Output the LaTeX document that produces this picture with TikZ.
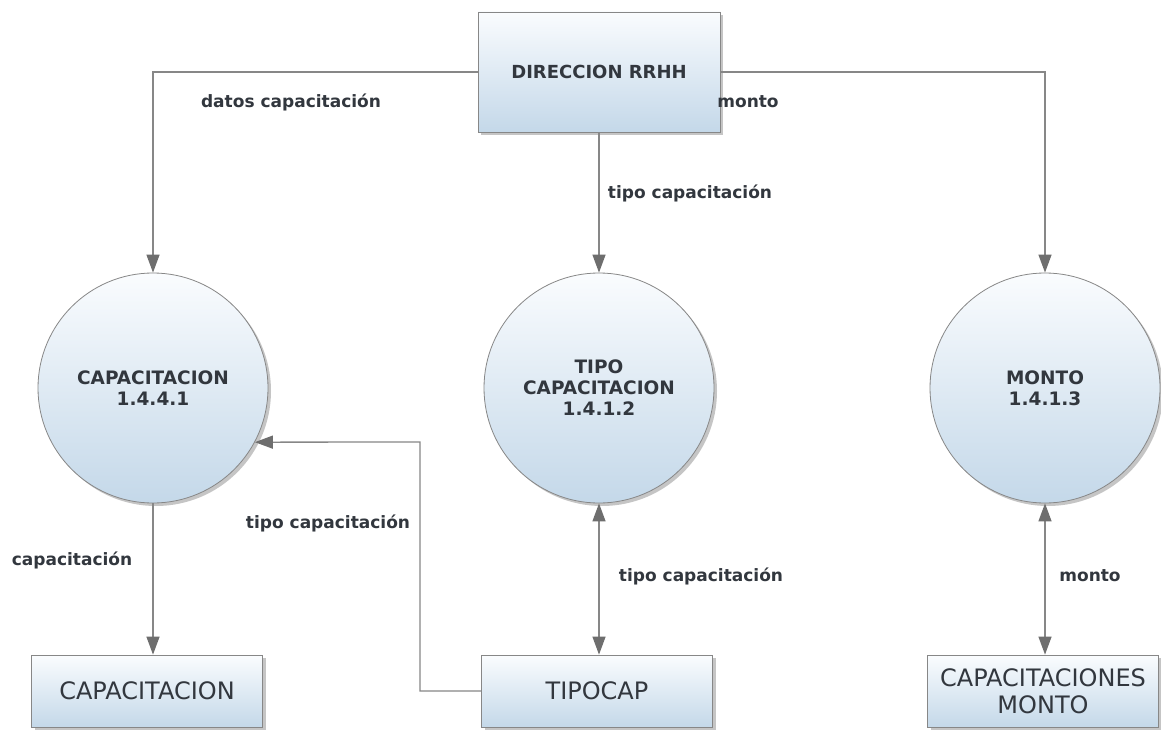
\documentclass[tikz,border=0pt]{standalone}
\usepackage{fontspec}
\setmainfont{DejaVu Sans}
\usetikzlibrary{arrows.meta,shadows}
\definecolor{edgegray}{RGB}{135,135,135}
\definecolor{tipgray}{RGB}{110,110,110}
\definecolor{fillbot}{RGB}{196,216,233}
\definecolor{filltop}{RGB}{250,252,254}
\definecolor{txt}{RGB}{50,55,62}
\tikzset{
  x=1pt, y=-1pt,
  tipshape/.style={Triangle[length=18pt,width=13pt,color=tipgray]},
  flow/.style={draw=edgegray, line width=1.3pt, -{Triangle[length=18pt,width=13pt,color=tipgray]}},
  flowboth/.style={draw=edgegray, line width=1.3pt,
    {Triangle[length=18pt,width=13pt,color=tipgray]}-{Triangle[length=18pt,width=13pt,color=tipgray]}},
  proc/.style={circle, draw=edgegray, line width=0.8pt, minimum size=230pt,
    inner sep=0pt, top color=filltop, bottom color=fillbot,
    drop shadow={shadow xshift=3pt, shadow yshift=-3pt, opacity=0.45},
    align=center, text=txt, font=\bfseries\fontsize{18.5}{21}\selectfont},
  entity/.style={rectangle, draw=edgegray, line width=0.8pt,
    top color=filltop, bottom color=fillbot,
    drop shadow={shadow xshift=3pt, shadow yshift=-3pt, opacity=0.45},
    align=center, text=txt},
  extent/.style={entity, minimum width=242pt, minimum height=120pt,
    font=\bfseries\fontsize{18}{21}\selectfont},
  store/.style={entity, minimum width=231pt, minimum height=72pt,
    font=\fontsize{24}{27}\selectfont},
  flowlabel/.style={text=txt, font=\bfseries\fontsize{17}{19}\selectfont, inner sep=0pt},
}
\begin{document}
\begin{tikzpicture}
\useasboundingbox[fill=white] (0,0) rectangle (1161,730);

% external entity
\node[extent] (dir) at (599,72) {DIRECCION RRHH};

% processes
\node[proc] (cap)   at (153,388)  {CAPACITACION\\1.4.4.1};
\node[proc] (tipo)  at (599,388)  {TIPO\\CAPACITACION\\1.4.1.2};
\node[proc] (monto) at (1045,388) {MONTO\\1.4.1.3};

% data stores
\node[store] (scap)   at (147,691)  {CAPACITACION};
\node[store] (stipo)  at (597,691)  {TIPOCAP};
\node[store] (smonto) at (1043,691) {CAPACITACIONES\\MONTO};

% flows from the external entity
\draw[flow] (dir.west) -| (cap.north);
\draw[flow] (dir.east) -| (monto.north);
\draw[flow] (dir.south) -- (tipo.north);

% flows to and from the stores
\draw[flow] (cap.south) -- (cap.south |- scap.north);
\draw[flowboth] (tipo.south) -- (tipo.south |- stipo.north);
\draw[flowboth] (monto.south) -- (monto.south |- smonto.north);

\coordinate (bend) at (420,442);
\draw[flow] (stipo.west) -| (bend) -- (cap.-28);

% flow labels
\node[flowlabel] (l1) at (291,102) {datos capacitación};
\node[flowlabel] (l2) at (748,102) {monto};
\node[flowlabel] (l3) at (690,193) {tipo capacitación};
\node[flowlabel] (l4) at (72,560)  {capacitación};
\node[flowlabel] (l5) at (328,523) {tipo capacitación};
\node[flowlabel] (l6) at (701,576) {tipo capacitación};
\node[flowlabel] (l7) at (1090,576) {monto};
\end{tikzpicture}
\end{document}
